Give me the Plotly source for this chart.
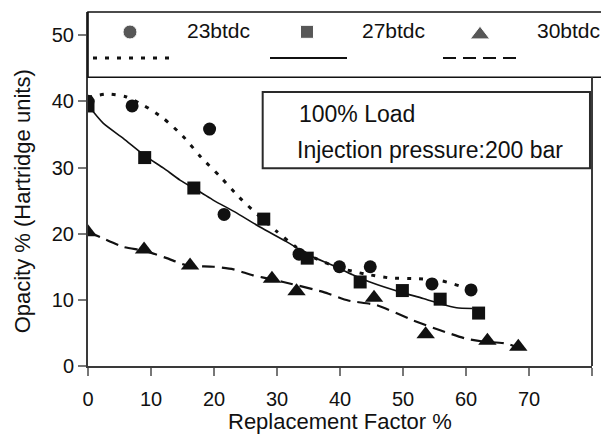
import plotly.graph_objects as go

# Measured opacity (Hartridge units) vs replacement factor (%)
rf_23 = [0, 7, 19.3, 21.6, 33.5, 39.9, 44.8, 54.6, 60.8]
op_23 = [40.0, 39.3, 35.8, 22.9, 16.9, 15.0, 15.0, 12.4, 11.5]

rf_27 = [0, 9.0, 16.8, 27.9, 34.8, 43.2, 49.9, 55.9, 62.0]
op_27 = [39.3, 31.5, 26.9, 22.2, 16.3, 12.7, 11.4, 10.1, 8.0]

rf_30 = [0, 8.9, 16.2, 29.2, 33.1, 45.4, 53.6, 63.4, 68.3]
op_30 = [20.2, 17.6, 15.2, 13.2, 11.3, 10.3, 4.8, 3.8, 2.9]

# Fitted trend values for each timing
trend_x_23 = [0, 3, 6, 9, 12, 15, 18, 21, 24, 27, 30, 33, 36, 40, 44, 48, 52, 56, 59, 61]
trend_y_23 = [40.6, 41.1, 40.7, 39.3, 37.4, 34.8, 31.5, 28.6, 25.5, 22.8, 20.3, 18.0,
              16.3, 14.8, 13.9, 13.3, 13.2, 12.9, 12.1, 11.3]

trend_x_27 = [0, 2.4, 5.6, 9, 12, 14.6, 17.8, 20, 23.3, 27.3, 31.5, 35.2, 38.9, 42,
              45.3, 49.5, 53.2, 55.9, 58.5, 61]
trend_y_27 = [39.4, 36.7, 34.4, 31.8, 29.9, 28.1, 26.3, 25.0, 23.3, 21.0, 18.8, 16.7,
              15.2, 13.8, 12.5, 11.2, 10.2, 9.4, 8.8, 8.7]

trend_x_30 = [0, 1.9, 5.6, 9, 12.5, 15.7, 19.9, 23.1, 26.2, 29.2, 31, 37.3, 41.3, 45.8,
              51.6, 55.9, 60.1, 62.7, 66.4, 68]
trend_y_30 = [20.3, 19.5, 18.0, 17.4, 16.3, 15.2, 15.0, 14.6, 13.7, 13.1, 12.7, 11.2,
              9.9, 9.2, 6.9, 5.4, 4.1, 3.7, 3.4, 2.9]

x_ticks = [0, 10, 20, 30, 40, 50, 60, 70, 80]
y_ticks = [0, 10, 20, 30, 40, 50]

series_names = ["23btdc", "27btdc", "30btdc"]

INK = "#111111"
AXIS = "#3a3a3a"
FONT = "Liberation Sans, Arial, sans-serif"

DOTTED = "4px,8px"
DASHED = "13px,7px"
SMOOTH = 0.6

fig = go.Figure()

# trend curves
fig.add_trace(go.Scatter(x=trend_x_23, y=trend_y_23, mode="lines",
                         line=dict(color=INK, width=3, dash=DOTTED, shape="spline", smoothing=SMOOTH),
                         hoverinfo="skip"))
fig.add_trace(go.Scatter(x=trend_x_27, y=trend_y_27, mode="lines",
                         line=dict(color=INK, width=1.6, shape="spline", smoothing=SMOOTH),
                         hoverinfo="skip"))
fig.add_trace(go.Scatter(x=trend_x_30, y=trend_y_30, mode="lines",
                         line=dict(color=INK, width=2.2, dash=DASHED, shape="spline", smoothing=SMOOTH),
                         hoverinfo="skip"))

# measured points
fig.add_trace(go.Scatter(x=rf_23, y=op_23, mode="markers", name=series_names[0],
                         marker=dict(symbol="circle", size=13, color=INK)))
fig.add_trace(go.Scatter(x=rf_27, y=op_27, mode="markers", name=series_names[1],
                         marker=dict(symbol="square", size=13, color=INK)))
fig.add_trace(go.Scatter(x=rf_30, y=op_30, mode="markers", name=series_names[2],
                         marker=dict(symbol="triangle-up", size=16, color=INK)))

# legend symbols on an overlay axis spanning the plot in paper units
leg_x = [0.0833, 0.4345, 0.7778]
leg_y = [0.9435, 0.9440, 0.9360]
fig.add_trace(go.Scatter(x=leg_x, y=leg_y, mode="markers", xaxis="x2", yaxis="y2",
                         marker=dict(symbol=["circle", "square", "triangle-up"],
                                     size=[14, 13, 17], color=INK),
                         hoverinfo="skip", cliponaxis=False))

shapes = []
# legend frame across the top of the plot
shapes.append(dict(type="rect", xref="paper", yref="paper", x0=0, x1=1.03, y0=0.8155, y1=1.0,
                   line=dict(color=INK, width=1.6), fillcolor="rgba(0,0,0,0)", layer="above"))
# right border of the plot below the legend frame
shapes.append(dict(type="line", xref="paper", yref="paper", x0=1, x1=1, y0=0, y1=0.8155,
                   line=dict(color=AXIS, width=2)))
# legend line samples
leg_line_y = 0.870
for (x0, x1, dash, w) in [(93, 172, DOTTED, 3), (270, 347, "solid", 1.8), (443, 522, DASHED, 2.2)]:
    shapes.append(dict(type="line", xref="paper", yref="paper",
                       x0=(x0 - 88) / 504, x1=(x1 - 88) / 504, y0=leg_line_y, y1=leg_line_y,
                       line=dict(color=INK, width=w, dash=dash)))
# condition box
shapes.append(dict(type="rect", xref="paper", yref="paper", x0=0.3466, x1=0.996, y0=0.5585, y1=0.774,
                   line=dict(color="#2a2a2a", width=2), fillcolor="white", layer="below"))

annotations = []
for name, px in zip(series_names, [185, 360, 535]):
    annotations.append(dict(text=name, xref="paper", yref="paper", x=(px - 88) / 504, y=0.948,
                            xanchor="left", yanchor="middle", showarrow=False,
                            font=dict(size=21, color=INK, family=FONT)))
annotations.append(dict(text="100% Load", xref="paper", yref="paper", x=0.414, y=0.713,
                        xanchor="left", yanchor="middle", showarrow=False,
                        font=dict(size=23, color=INK, family=FONT)))
annotations.append(dict(text="Injection pressure:200 bar", xref="paper", yref="paper", x=0.4107,
                        y=0.6093, xanchor="left", yanchor="middle", showarrow=False,
                        font=dict(size=23, color=INK, family=FONT)))
annotations.append(dict(text="Replacement Factor %", xref="paper", yref="paper", x=0.5, y=-0.157,
                        xanchor="center", yanchor="middle", showarrow=False,
                        font=dict(size=22, color=INK, family=FONT)))
annotations.append(dict(text="Opacity % (Hartridge units)", xref="paper", yref="paper", x=-0.131,
                        y=0.465, xanchor="center", yanchor="middle", textangle=-90, showarrow=False,
                        font=dict(size=22, color=INK, family=FONT)))

fig.update_layout(
    width=601, height=435,
    margin=dict(l=88, r=9, t=12, b=69),
    paper_bgcolor="white", plot_bgcolor="white",
    showlegend=False,
    font=dict(family=FONT, color=INK),
    xaxis=dict(range=[0, 80], tickvals=x_ticks, ticktext=[str(v) for v in x_ticks],
               showgrid=False, zeroline=False, showline=True, linecolor=AXIS, linewidth=2,
               ticks="outside", ticklen=8, tickwidth=2, tickcolor="#777777",
               ticklabelstandoff=6,
               tickfont=dict(size=20, color=INK)),
    yaxis=dict(range=[0, 53.5], tickvals=y_ticks, ticktext=[str(v) for v in y_ticks],
               showgrid=False, zeroline=False, showline=True, linecolor=AXIS, linewidth=2,
               ticks="outside", ticklen=8, tickwidth=2, tickcolor="#777777",
               tickfont=dict(size=20, color=INK)),
    xaxis2=dict(range=[0, 1], overlaying="x", visible=False, fixedrange=True),
    yaxis2=dict(range=[0, 1], overlaying="y", visible=False, fixedrange=True),
    shapes=shapes,
    annotations=annotations,
)

fig.write_html("out.html")
